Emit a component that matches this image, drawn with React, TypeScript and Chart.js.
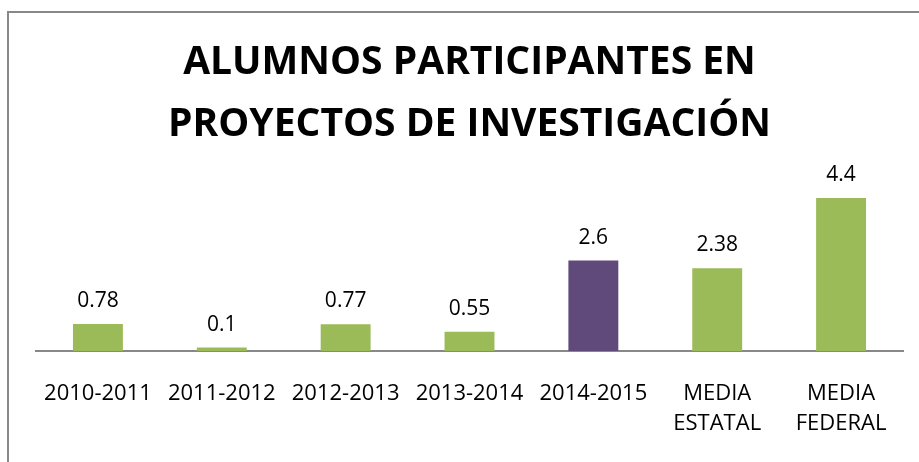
import React, { useEffect, useRef } from "react";
import { Chart, registerables } from "chart.js";

Chart.register(...registerables);

const categories: (string | string[])[] = [
  "2010-2011",
  "2011-2012",
  "2012-2013",
  "2013-2014",
  "2014-2015",
  ["MEDIA", "ESTATAL"],
  ["MEDIA", "FEDERAL"],
];
const values: number[] = [0.78, 0.1, 0.77, 0.55, 2.6, 2.38, 4.4];
const barColors: string[] = [
  "#9BBB59",
  "#9BBB59",
  "#9BBB59",
  "#9BBB59",
  "#604A7B",
  "#9BBB59",
  "#9BBB59",
];
const titleLines: string[] = ["ALUMNOS PARTICIPANTES EN", "PROYECTOS DE INVESTIGACIÓN"];

const FONT = "'Open Sans', sans-serif";

const framePlugin = {
  id: "frame",
  beforeDraw(chart: any) {
    const ctx = chart.ctx;
    ctx.save();
    ctx.fillStyle = "#ffffff";
    ctx.fillRect(0, 0, chart.width, chart.height);
    ctx.strokeStyle = "#888888";
    ctx.lineWidth = 2;
    ctx.beginPath();
    ctx.moveTo(8, chart.height + 2);
    ctx.lineTo(8, 12);
    ctx.lineTo(chart.width + 2, 12);
    ctx.stroke();
    ctx.restore();
  },
};

const valueLabelPlugin = {
  id: "valueLabels",
  afterDatasetsDraw(chart: any) {
    const ctx = chart.ctx;
    const meta = chart.getDatasetMeta(0);
    ctx.save();
    ctx.font = `21px ${FONT}`;
    ctx.fillStyle = "#000000";
    ctx.textAlign = "center";
    ctx.textBaseline = "middle";
    meta.data.forEach((bar: any, i: number) => {
      ctx.fillText(String(values[i]), bar.x, bar.y - 23);
    });
    ctx.restore();
  },
};

export default function App() {
  const canvasRef = useRef<HTMLCanvasElement | null>(null);

  useEffect(() => {
    if (!canvasRef.current) return;
    const chart = new Chart(canvasRef.current, {
      type: "bar",
      data: {
        labels: categories,
        datasets: [
          {
            data: values,
            backgroundColor: barColors,
            borderWidth: 0,
            barPercentage: 0.403,
            categoryPercentage: 1,
          },
        ],
      },
      options: {
        animation: false,
        responsive: true,
        maintainAspectRatio: false,
        layout: { padding: { left: 36, right: 16, top: 0, bottom: 23 } },
        plugins: {
          legend: { display: false },
          tooltip: { enabled: false },
          title: {
            display: true,
            text: titleLines,
            color: "#000000",
            font: { family: FONT, size: 39, weight: "bold", lineHeight: 62 / 39 },
            padding: { top: 32, bottom: 10 },
          },
        },
        scales: {
          x: {
            grid: { display: false, drawTicks: false },
            border: { display: true, color: "#888888", width: 2 },
            ticks: {
              color: "#000000",
              font: { family: FONT, size: 22, lineHeight: 30 / 22 },
              padding: 28,
              autoSkip: false,
              maxRotation: 0,
              minRotation: 0,
            },
            afterFit(scale: any) {
              scale.height = 28 + 60;
            },
          },
          y: {
            display: false,
            min: 0,
            max: 5.32,
          },
        },
      },
      plugins: [framePlugin, valueLabelPlugin],
    });
    return () => chart.destroy();
  }, []);

  return (
    <div style={{ position: "absolute", left: 0, top: 0, width: 919, height: 462 }}>
      <canvas ref={canvasRef} />
    </div>
  );
}
